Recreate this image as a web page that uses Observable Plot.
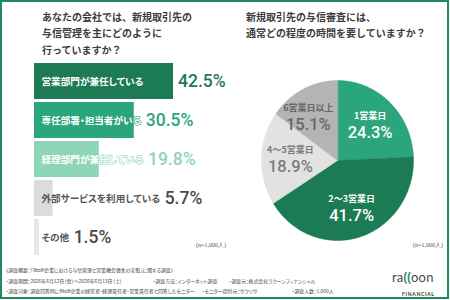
<!DOCTYPE html>
<html lang="ja">
<head>
<meta charset="utf-8">
<script src="https://cdn.jsdelivr.net/npm/d3@7"></script>
<script src="https://cdn.jsdelivr.net/npm/@observablehq/plot@0.6"></script>
<style>
  html, body { margin: 0; padding: 0; background: #fff; }
  #page { position: relative; width: 450px; height: 300px; overflow: hidden;
          font-family: "Noto Sans CJK JP", "Noto Sans", sans-serif; color: #3c3c3c; }
  #frame { position: absolute; left: 0; top: 0; width: 449px; height: 299px;
           border: 2px solid #1f8a5e; box-sizing: border-box; }
  .title { position: absolute; font-size: 10px; font-weight: 700; line-height: 16.5px;
           color: #3c3c3c; white-space: nowrap; }
  .chart { position: absolute; }
  .chart svg { overflow: visible; }
  .chart text { font-feature-settings: "palt"; }
  .n { position: absolute; font-family: "Liberation Serif", "DejaVu Serif", serif;
       font-size: 6px; color: #555; white-space: nowrap; }
  .foot { position: absolute; font-size: 4.9px; line-height: 6px; color: #444; white-space: nowrap;
          font-feature-settings: "palt"; }
  #logo { position: absolute; left: 392px; top: 269px; font-family: Lato, "Noto Sans", sans-serif;
          font-size: 13px; line-height: 16px; color: #4a4a4a; white-space: nowrap; letter-spacing: 0.2px; }
  #logo .p { color: #1f8a5e; font-weight: 700; }
  #fin { position: absolute; left: 402px; top: 291px; font-family: Lato, "Noto Sans", sans-serif;
         font-size: 5px; line-height: 6px; font-weight: 700; color: #333; letter-spacing: 0.7px; }
  #measure { position: absolute; left: -1000px; top: -1000px; }
</style>
</head>
<body>
<div id="page">
  <div id="frame"></div>
  <div class="title" style="left:42px; top:8.5px;">あなたの会社では、新規取引先の<br>与信管理を主にどのように<br>行っていますか？</div>
  <div class="title" style="left:246px; top:8.5px;">新規取引先の与信審査には、<br>通常どの程度の時間を要していますか？</div>
  <div id="bars" class="chart" style="left:0; top:60px;"></div>
  <div id="pie" class="chart" style="left:225px; top:60px;"></div>
  <div class="n" style="right:224px; top:241px;">(n=1,000人)</div>
  <div class="n" style="right:7px; top:241px;">(n=1,000人)</div>
  <div class="foot" style="left:6px; top:267px;">《調査概要：「BtoB企業における与信管理と営業機会損失の実態」に関する調査》</div>
  <div class="foot" style="left:6px; top:277.5px;">・調査期間：2026年6月12日（金）～2026年6月13日（土）</div>
  <div class="foot" style="left:153px; top:277.5px;">・調査方法：インターネット調査</div>
  <div class="foot" style="left:229px; top:277.5px;">・調査元：株式会社ラクーンフィナンシャル</div>
  <div class="foot" style="left:6px; top:288px;">・調査対象：調査回答時にBtoB企業の経営者・経理責任者・営業責任者と回答したモニター</div>
  <div class="foot" style="left:202px; top:288px;">・モニター提供元：サクリサ</div>
  <div class="foot" style="left:292px; top:288px;">・調査人数：1,000人</div>
  <div id="logo">ra<span class="p">((</span>oon</div>
  <div id="fin">FINANCIAL</div>
</div>
<svg id="measure" width="10" height="10"></svg>
<script>
// Question 1: how credit management of new clients is handled (%)
const barCats = ["営業部門が兼任している", "専任部署・担当者がいる", "経理部門が兼任している", "外部サービスを利用している", "その他"];
const barPct = [42.5, 30.5, 19.8, 5.7, 1.5];

// Question 2: time usually needed for a credit review (%)
const pieCats = ["1営業日", "2～3営業日", "4～5営業日", "6営業日以上"];
const piePct = [24.3, 41.7, 18.9, 15.1];

// Palettes
const barFill = ["#1c7a55", "#2ba57b", "#8dd5b7", "#dcdcdc", "#e7e7e7"];
const pieFill = ["#2ba57b", "#1c7a55", "#e2e2e2", "#b4b4b4"];
const pieInk = ["#ffffff", "#ffffff", "#7c7c7c", "#676767"];
const jp = '"Noto Sans CJK JP", sans-serif';
const num = 'Roboto, "Noto Sans", sans-serif';

// width of a text string as it will be drawn
const meas = document.getElementById("measure");
function textWidth(str, size, weight, family) {
  const t = document.createElementNS("http://www.w3.org/2000/svg", "text");
  t.setAttribute("font-size", size);
  t.setAttribute("font-weight", weight);
  t.setAttribute("font-family", family);
  t.style.fontFeatureSettings = '"palt"';
  t.textContent = str;
  meas.appendChild(t);
  const w = t.getComputedTextLength();
  meas.removeChild(t);
  return w;
}

// ---------- bar chart ----------
const labelFont = 9.6;
const labelPad = 7;
const xDomain = [0, d3.max(barPct)];
const xRange = [34, 173];
const xs = Plot.scale({x: {domain: xDomain, range: xRange}});

// the percentage sits after the bar end or after the category label, whichever is further right
const bars = barCats.map((cat, i) => {
  const w = textWidth(cat, labelFont, 700, jp);
  const labelEnd = xs.invert(xRange[0] + labelPad + w);
  return {cat, pct: barPct[i], valueX: Math.max(barPct[i], labelEnd), inside: i < 3};
});

const barPlot = Plot.plot({
  width: 228,
  height: 200,
  margin: 0,
  x: {domain: xDomain, range: xRange, axis: null},
  y: {domain: barCats, range: [3, 196], paddingInner: 0.07, paddingOuter: 0, axis: null},
  color: {domain: barCats, range: barFill},
  marks: [
    Plot.barX(bars, {x: "pct", y: "cat", fill: "cat"}),
    Plot.text(bars, {filter: d => d.inside, x: 0, y: "cat", text: "cat", dx: labelPad, textAnchor: "start",
      fill: "white", stroke: "cat", strokeWidth: 1.1, fontSize: labelFont, fontWeight: 700, fontFamily: jp}),
    Plot.text(bars, {filter: d => !d.inside, x: 0, y: "cat", text: "cat", dx: labelPad, textAnchor: "start",
      fill: "#555", fontSize: labelFont, fontWeight: 700, fontFamily: jp}),
    Plot.text(bars, {filter: d => d.inside, x: "valueX", y: "cat", text: d => d.pct.toFixed(1) + "%", dx: 4.5,
      textAnchor: "start", fill: "cat", fontSize: 17.5, fontWeight: 500, fontFamily: num}),
    Plot.text(bars, {filter: d => !d.inside, x: "valueX", y: "cat", text: d => d.pct.toFixed(1) + "%", dx: 4.5,
      textAnchor: "start", fill: "#4a4a4a", fontSize: 17.5, fontWeight: 500, fontFamily: num})
  ]
});
document.getElementById("bars").appendChild(barPlot);

// ---------- pie chart ----------
const RX = 76, RY = 80;          // drawn radius in px along x and y
const CX = 112, CY = 100;        // centre inside the pie svg
const catFont = 9;
const arcs = d3.pie().sort(null).startAngle(0).endAngle(2 * Math.PI)(piePct);
const outline = [];
const labels = [];
arcs.forEach((a, i) => {
  const cat = pieCats[i];
  outline.push({cat, x: 0, y: 0});
  const steps = Math.max(2, Math.ceil((a.endAngle - a.startAngle) / (Math.PI / 180)));
  for (let k = 0; k <= steps; k++) {
    const t = a.startAngle + (a.endAngle - a.startAngle) * k / steps;
    outline.push({cat, x: Math.sin(t), y: Math.cos(t)});
  }
  const mid = (a.startAngle + a.endAngle) / 2;
  let x = 0.62 * Math.sin(mid);
  const y = 0.62 * Math.cos(mid);
  // keep a label in the upper-left slice clear of the vertical 12 o'clock edge
  if (a.startAngle > Math.PI && y > 0) {
    const half = textWidth(cat, catFont, 700, jp) / 2 + 4;
    x = Math.min(x, -half / RX);
  }
  labels.push({cat, pct: piePct[i], x, y, ink: pieInk[i]});
});

const pieMarks = [
  Plot.line(outline, {x: "x", y: "y", z: "cat", fill: "cat", stroke: "cat", strokeWidth: 0.5, curve: "linear-closed"})
];
labels.forEach(l => {
  pieMarks.push(Plot.text([l], {x: "x", y: "y", text: "cat", dy: -8.5, fill: l.ink,
    fontSize: catFont, fontWeight: 700, fontFamily: jp}));
  pieMarks.push(Plot.text([l], {x: "x", y: "y", text: d => d.pct.toFixed(1) + "%", dy: 8,
    fill: l.ink, fontSize: 16.5, fontWeight: 500, fontFamily: num}));
});

const piePlot = Plot.plot({
  width: 225,
  height: 200,
  margin: 0,
  x: {domain: [-1, 1], range: [CX - RX, CX + RX], axis: null},
  y: {domain: [-1, 1], range: [CY + RY, CY - RY], axis: null},
  color: {domain: pieCats, range: pieFill},
  marks: pieMarks
});
document.getElementById("pie").appendChild(piePlot);
</script>
</body>
</html>
